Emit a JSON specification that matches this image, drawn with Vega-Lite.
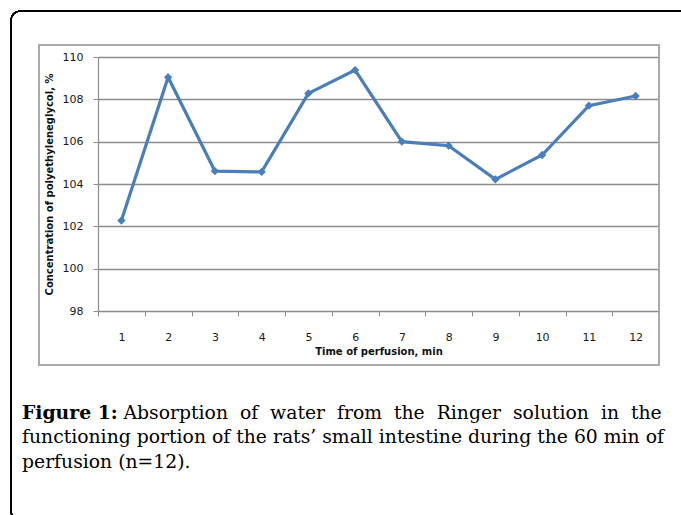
{
  "$schema": "https://vega.github.io/schema/vega-lite/v6.json",
  "width": 561,
  "height": 254,
  "autosize": {"type": "none"},
  "padding": {"left": 98, "top": 57, "right": 22, "bottom": 204},
  "background": "white",
  "config": {"view": {"stroke": null}},
  "title": {
    "text": "Figure 1:",
    "subtitle": [
      "\u200b\u00a0\u00a0\u00a0\u00a0\u00a0\u00a0\u00a0\u00a0\u00a0\u00a0\u00a0\u00a0\u00a0\u00a0\u00a0\u00a0\u00a0Absorption\u00a0\u00a0of\u00a0\u00a0water\u00a0\u00a0from\u00a0\u00a0the\u00a0\u00a0Ringer\u00a0\u00a0solution\u00a0\u00a0in\u00a0\u00a0the",
      "functioning portion of the rats’ small intestine during the 60 min of",
      "perfusion (n=12)."
    ],
    "orient": "bottom",
    "anchor": "start",
    "frame": "group",
    "baseline": "top",
    "font": "DejaVu Serif",
    "fontSize": 18.8,
    "fontWeight": "bold",
    "color": "#000000",
    "subtitleFont": "DejaVu Serif",
    "subtitleFontSize": 18.8,
    "subtitleColor": "#000000",
    "subtitleLineHeight": 24.5,
    "subtitlePadding": -18.8,
    "dx": -76,
    "offset": -117
  },
  "data": {
    "values": [
      {"t": 1, "c": 102.27},
      {"t": 2, "c": 109.04},
      {"t": 3, "c": 104.61},
      {"t": 4, "c": 104.57},
      {"t": 5, "c": 108.28},
      {"t": 6, "c": 109.38},
      {"t": 7, "c": 106.0},
      {"t": 8, "c": 105.81},
      {"t": 9, "c": 104.22},
      {"t": 10, "c": 105.37},
      {"t": 11, "c": 107.7},
      {"t": 12, "c": 108.16}
    ]
  },
  "layer": [
    {
      "mark": {"type": "rect", "fillOpacity": 0, "stroke": "#000000", "strokeWidth": 1.3, "cornerRadius": 9},
      "encoding": {
        "x": {"datum": -1.361, "type": "quantitative"},
        "x2": {"datum": 13.2},
        "y": {"datum": 112.17, "type": "quantitative"},
        "y2": {"datum": 88.126}
      }
    },
    {
      "mark": {"type": "rect", "fillOpacity": 0, "stroke": "#ababab", "strokeWidth": 1.5},
      "encoding": {
        "x": {"datum": -0.762, "type": "quantitative"},
        "x2": {"datum": 12.5},
        "y": {"datum": 110.567, "type": "quantitative"},
        "y2": {"datum": 95.449}
      }
    },
    {
      "mark": {"type": "line", "color": "#4a7ebb", "strokeWidth": 3.2},
      "encoding": {
        "x": {
          "field": "t",
          "type": "quantitative",
          "scale": {"domain": [0.5, 12.5], "nice": false, "zero": false},
          "axis": {
            "values": [1, 2, 3, 4, 5, 6, 7, 8, 9, 10, 11, 12],
            "format": "d",
            "tickOffset": -23.375,
            "labelOffset": 23.375,
            "grid": false,
            "domainColor": "#8c8c8c",
            "domainWidth": 1.2,
            "tickColor": "#8c8c8c",
            "tickSize": 5,
            "labelPadding": 15,
            "labelFont": "DejaVu Sans",
            "labelFontSize": 11,
            "labelColor": "#1a1a1a",
            "labelFlush": false,
            "labelOverlap": false,
            "title": "Time of perfusion, min",
            "titleFont": "DejaVu Sans",
            "titleFontSize": 10,
            "titleFontWeight": "bold",
            "titleColor": "#111111",
            "titlePadding": 4
          }
        },
        "y": {
          "field": "c",
          "type": "quantitative",
          "scale": {"domain": [98, 110], "nice": false, "zero": false},
          "axis": {
            "values": [98, 100, 102, 104, 106, 108, 110],
            "grid": true,
            "gridColor": "#8c8c8c",
            "gridWidth": 1.3,
            "domainColor": "#8c8c8c",
            "domainWidth": 1.2,
            "tickColor": "#8c8c8c",
            "tickSize": 5,
            "labelPadding": 10,
            "labelFont": "DejaVu Sans",
            "labelFontSize": 11,
            "labelColor": "#1a1a1a",
            "title": "Concentration of polyethyleneglycol, %",
            "titleFont": "DejaVu Sans",
            "titleFontSize": 10,
            "titleFontWeight": "bold",
            "titleColor": "#111111",
            "titlePadding": 8
          }
        }
      }
    },
    {
      "mark": {"type": "point", "shape": "diamond", "filled": true, "color": "#4a7ebb", "size": 70, "opacity": 1},
      "encoding": {
        "x": {"field": "t", "type": "quantitative"},
        "y": {"field": "c", "type": "quantitative"}
      }
    }
  ]
}
